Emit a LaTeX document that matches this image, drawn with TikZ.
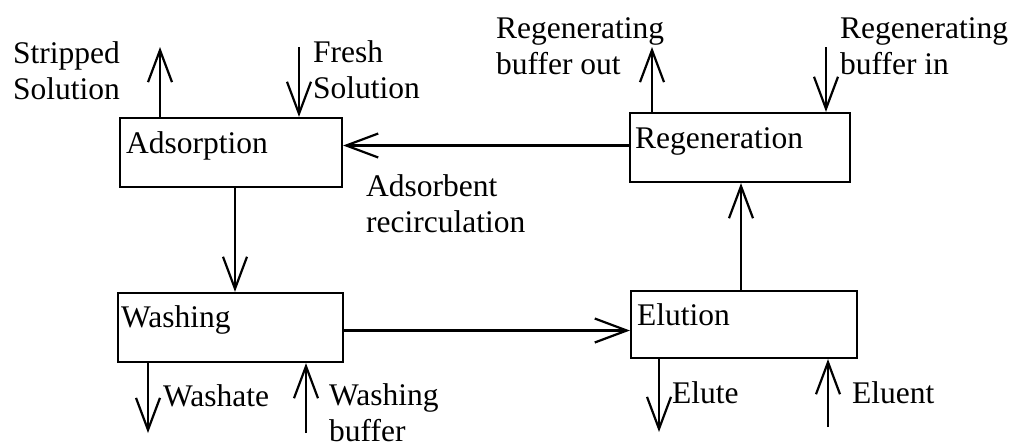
\documentclass[tikz,border=0pt]{standalone}
\usepackage{fontspec}
\setmainfont{Liberation Serif}
\usetikzlibrary{arrows.meta}
\newcommand{\twolines}[2]{\begin{tabular}[t]{@{}l@{}}#1\\#2\end{tabular}}
\begin{document}
\begin{tikzpicture}[x=1pt,y=-1pt,
  box/.style={draw,line width=2.2pt,minimum width=#1,minimum height=69pt,inner sep=0pt},
  txt/.style={anchor=base west,inner sep=0pt,font=\fontsize{31.5}{36}\selectfont},
  arr/.style={line width=2.2pt,-{Straight Barb[length=32pt,width=24pt,line width=2.2pt]}},
  conn/.style={line width=2.2pt}]
\useasboundingbox (0,0) rectangle (1012,445);
% boxes
\node[box=222pt] (ads) at (231,152.5) {};
\node[box=220pt] (reg) at (740,147.5) {};
\node[box=225pt] (was) at (230.5,327.5) {};
\node[box=226pt,minimum height=67pt] (elu) at (744,324.5) {};
% box labels
\node[txt] (adsl) at (126,153) {Adsorption};
\node[txt] (regl) at (635,148) {Regeneration};
\node[txt] (wasl) at (121,327) {Washing};
\node[txt] (elul) at (637,325) {Elution};
% external labels
\node[txt] (strip) at (13,63) {\twolines{Stripped}{Solution}};
\node[txt] (fresh) at (313,62) {\twolines{Fresh}{Solution}};
\node[txt] (rbo) at (496,38) {\twolines{Regenerating}{buffer out}};
\node[txt] (rbi) at (840,38) {\twolines{Regenerating}{buffer in}};
\node[txt] (recl) at (366,196) {\twolines{Adsorbent}{recirculation}};
\node[txt] (washate) at (163,406) {Washate};
\node[txt] (wbuf) at (329,405) {\twolines{Washing}{buffer}};
\node[txt] (elute) at (672,403) {Elute};
\node[txt] (eluent) at (852,403) {Eluent};
% free ends
\coordinate (so) at (160,47);
\coordinate (fs) at (299,47);
\coordinate (ro) at (652,47);
\coordinate (ri) at (826,47);
\coordinate (wo) at (148,433);
\coordinate (wb) at (306,433);
\coordinate (eo) at (659,432);
\coordinate (ei) at (828,427);
% connectors
\draw[arr] (ads.north -| so) -- (so);
\draw[arr] (fs) -- (fs |- ads.north);
\draw[arr] (reg.north -| ro) -- (ro);
\draw[arr] (ri) -- (ri |- reg.north);
\draw[arr] (was.south -| wo) -- (wo);
\draw[arr] (wb) -- (wb |- was.south);
\draw[arr] (elu.south -| eo) -- (eo);
\draw[arr] (ei) -- (ei |- elu.south);
\draw[arr] ([xshift=4pt]ads.south) -- ([xshift=4pt]ads.south |- was.north);
\draw[arr] ([yshift=-3pt]was.east) -- ([yshift=-3pt]was.east -| elu.west);
\draw[arr] ([xshift=1pt]reg.south |- elu.north) -- ([xshift=1pt]reg.south);
\draw[arr] ([yshift=2pt]reg.west) -- ([yshift=2pt]reg.west -| ads.east);
\end{tikzpicture}
\end{document}
